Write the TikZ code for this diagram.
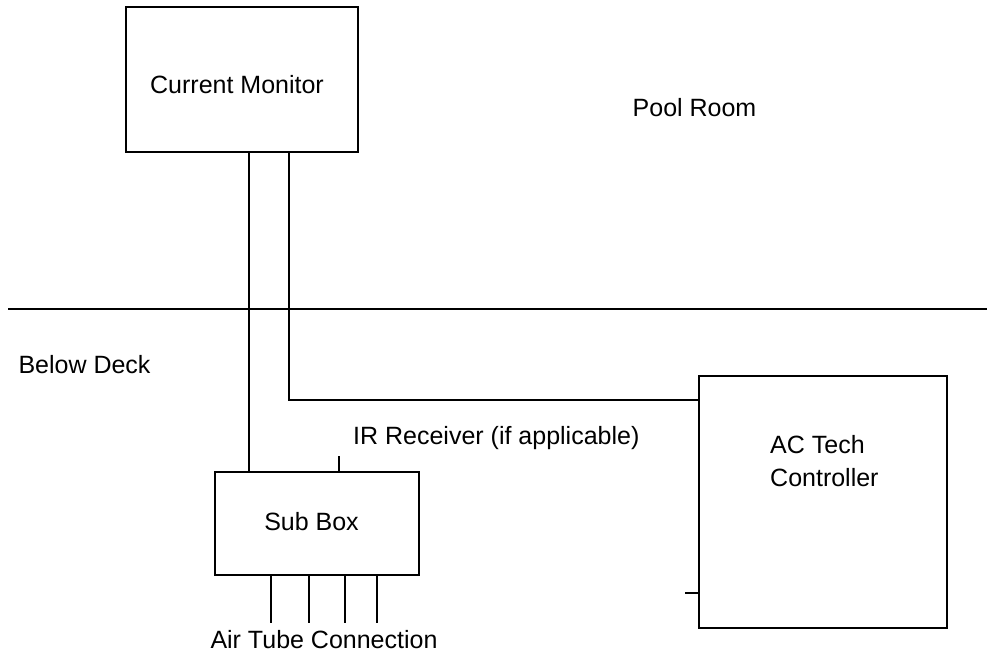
\documentclass[tikz,border=0pt]{standalone}
\usepackage{fontspec}
\setmainfont{Liberation Sans}
\begin{document}
\begin{tikzpicture}[x=1pt,y=-1pt,
  every node/.style={font=\fontsize{25}{33}\selectfont, inner sep=0pt},
  boxnode/.style={draw, line width=1.5pt, rectangle, inner sep=0pt},
  wire/.style={line width=1.5pt}]
\useasboundingbox (0,0) rectangle (987,657);
% boxes
\node[boxnode, minimum width=232pt, minimum height=145pt] (cm) at (242,79.5) {};
\node[boxnode, minimum width=204pt, minimum height=103pt] (sub) at (317,523.5) {};
\node[boxnode, minimum width=248pt, minimum height=252pt] (ac) at (823,502) {};
% texts
\node (cmt) at (237,85) {Current Monitor};
\node (subt) at (311.5,522) {Sub Box};
\node[anchor=west, align=left] (act) at (770,461.5) {AC Tech\\Controller};
\node (pool) at (694.5,108) {Pool Room};
\node (below) at (84.5,365) {Below Deck};
\node[anchor=west] (ir) at (353,438) {IR Receiver (if applicable)};
\node (air) at (324,640) {Air Tube Connection};
% divider
\coordinate (dl) at (8,309);
\coordinate (dr) at (987,309);
\draw[wire] (dl) -- (dr);
% connectors
\coordinate (c1) at (249,152);
\coordinate (c2) at (289,152);
\coordinate (acin) at (699,400);
\draw[wire] (c1) -- (c1 |- sub.north);
\draw[wire] (c2) |- (acin);
% AC tick
\coordinate (tk) at (699,593);
\draw[wire] (tk) -- ++(-14,0);
% IR tick
\coordinate (irt) at (339,472);
\draw[wire] (irt) -- ++(0,-16);
% air tubes
\foreach \x [count=\i] in {271,309,345,377} {
  \coordinate (t\i) at (\x,575);
  \draw[wire] (t\i) -- ++(0,48);
}
\end{tikzpicture}
\end{document}
